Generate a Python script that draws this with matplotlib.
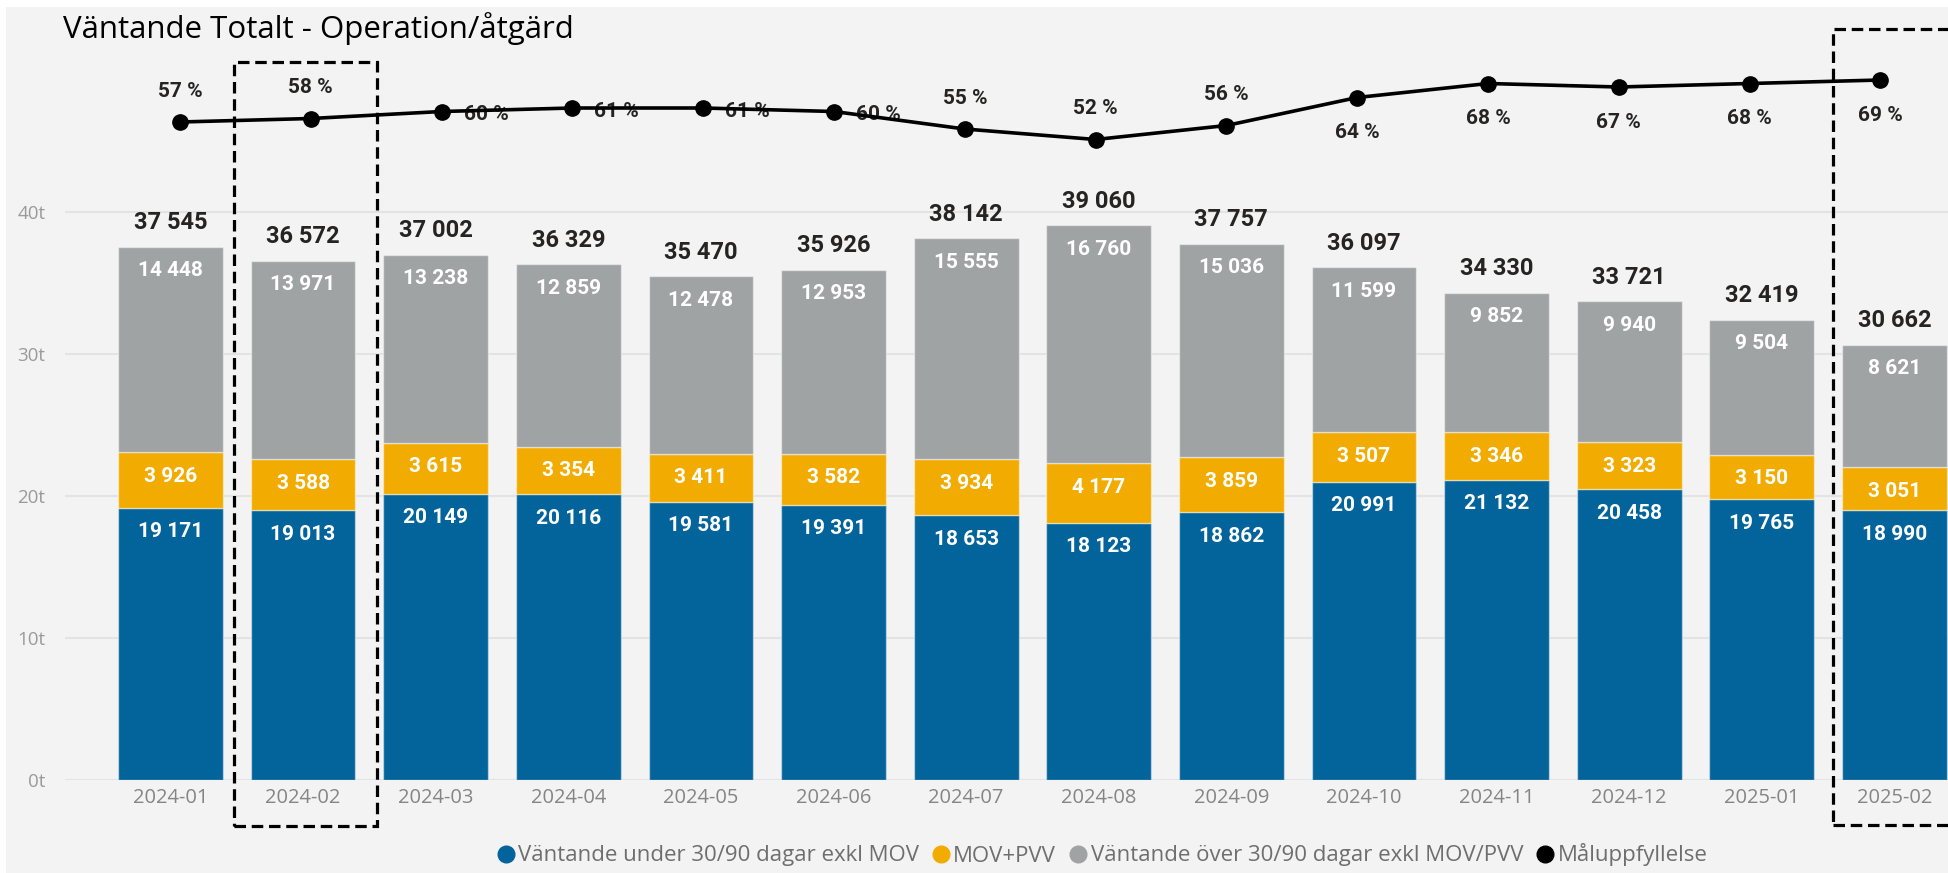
import matplotlib
matplotlib.use("Agg")
import matplotlib.pyplot as plt
from matplotlib.patches import Rectangle
from matplotlib.lines import Line2D
import matplotlib.transforms as mtransforms
import numpy as np

# ---------------- data ----------------
months = ["2024-01", "2024-02", "2024-03", "2024-04", "2024-05", "2024-06", "2024-07",
          "2024-08", "2024-09", "2024-10", "2024-11", "2024-12", "2025-01", "2025-02"]
under_30_90 = [19171, 19013, 20149, 20116, 19581, 19391, 18653, 18123, 18862, 20991, 21132, 20458, 19765, 18990]
mov_pvv = [3926, 3588, 3615, 3354, 3411, 3582, 3934, 4177, 3859, 3507, 3346, 3323, 3150, 3051]
over_30_90 = [14448, 13971, 13238, 12859, 12478, 12953, 15555, 16760, 15036, 11599, 9852, 9940, 9504, 8621]
maluppfyllelse = [57, 58, 60, 61, 61, 60, 55, 52, 56, 64, 68, 67, 68, 69]
pct_label_pos = ["above", "above", "right", "right", "right", "right", "above", "above", "above",
                 "below", "below", "below", "below", "below"]
highlighted = ["2024-02", "2025-02"]
series_names = ["Väntande under 30/90 dagar exkl MOV", "MOV+PVV",
                "Väntande över 30/90 dagar exkl MOV/PVV", "Måluppfyllelse"]
title = "Väntande Totalt - Operation/åtgärd"

# ---------------- style ----------------
C_BLUE = "#03639b"
C_ORANGE = "#f2ab00"
C_GREY = "#a0a3a4"
C_BG = "#f3f3f3"
C_TEXT = "#252423"
UI_FONT = ["Open Sans", "DejaVu Sans"]
NUM_FONT = ["Roboto", "DejaVu Sans"]

W, H = 1949, 873
fig = plt.figure(figsize=(W / 100, H / 100), dpi=100)
fig.patch.set_facecolor("white")
fig.patches.append(Rectangle((6 / W, 0), 1 - 6 / W, 1 - 7 / H, transform=fig.transFigure,
                             facecolor=C_BG, edgecolor="none", zorder=-10))

ax = fig.add_axes([65 / W, (H - 780) / H, 1 - 65 / W, (780 - 40) / H])
ax.set_facecolor("none")
x = np.arange(len(months))
under = np.array(under_30_90)
mov = np.array(mov_pvv)
over = np.array(over_30_90)
totals = under + mov + over

bw = 0.79
edge = dict(edgecolor=(1, 1, 1, 0.45), linewidth=1)
b1 = ax.bar(x, under, bw, color=C_BLUE, **edge, zorder=2)
b2 = ax.bar(x, mov, bw, bottom=under, color=C_ORANGE, **edge, zorder=2)
b3 = ax.bar(x, over, bw, bottom=under + mov, color=C_GREY, **edge, zorder=2)

ax.set_xlim(-0.7956, 13.412)
ax.set_ylim(0, 740 / 142 * 10000)
ax.set_yticks([0, 10000, 20000, 30000, 40000])
ax.yaxis.set_major_formatter(matplotlib.ticker.FuncFormatter(lambda v, p: f"{int(round(v / 1000))}t"))
ax.yaxis.grid(True, color="#e3e3e3", linewidth=1.5, zorder=0)
ax.set_axisbelow(True)
for s in ax.spines.values():
    s.set_visible(False)
ax.set_xticks(x, months)
ax.tick_params(axis="x", length=0, pad=6, labelsize=14.5, labelcolor="#858585")
ax.tick_params(axis="y", length=0, pad=14, labelsize=13.5, labelcolor="#9a9a9a")
for lab in ax.get_xticklabels() + ax.get_yticklabels():
    lab.set_fontfamily(UI_FONT)


def fmt(v):
    return f"{int(v):,}".replace(",", " ")


# segment labels (inside end)
for bars, vals, bottoms in ((b1, under, np.zeros_like(under)), (b2, mov, under), (b3, over, under + mov)):
    for xi, v, b in zip(x, vals, bottoms):
        ax.annotate(fmt(v), (xi, b + v), xytext=(0, -24), textcoords="offset pixels",
                    ha="center", va="center", color="white", fontsize=15, fontweight="bold",
                    family=NUM_FONT, zorder=4)
# totals
for xi, t in zip(x, totals):
    ax.annotate(fmt(t), (xi, t), xytext=(0, 24), textcoords="offset pixels",
                ha="center", va="center", color=C_TEXT, fontsize=17, fontweight="bold",
                family=NUM_FONT, zorder=4)

# line on secondary axis (its own slightly different category spacing, as in the original)
ax2 = fig.add_axes(ax.get_position(), sharex=None)
ax2.set_facecolor("none")
ax2.set_ylim(-131, 80.43)
ax2.set_xlim(-0.879, 13.524)
ax2.axis("off")
ax2.plot(x, maluppfyllelse, color="black", lw=2.6, marker="o", ms=11, zorder=5)
for xi, p, pos in zip(x, maluppfyllelse, pct_label_pos):
    if pos == "above":
        off, ha = (0, 31), "center"
    elif pos == "below":
        off, ha = (0, -35), "center"
    else:
        off, ha = (22, -3), "left"
    ax2.annotate(f"{p} %", (xi, p), xytext=off, textcoords="offset pixels", ha=ha, va="center",
                 color=C_TEXT, fontsize=15, fontweight="bold", family=NUM_FONT, zorder=4)

# dashed highlight boxes
trans = mtransforms.blended_transform_factory(ax.transData, fig.transFigure)
box_geo = {"2024-02": (-0.52, 0.56, 1 - 826 / H, 1 - 62 / H),
           "2025-02": (-0.465, 0.7, 1 - 825 / H, 1 - 29 / H)}
for m in highlighted:
    i = months.index(m)
    l, r, btm, top = box_geo[m]
    rect = Rectangle((i + l, btm), r - l, top - btm, transform=trans, fill=False,
                     edgecolor="black", linewidth=2.3, linestyle=(0, (3.6, 1.8)),
                     clip_on=False, zorder=10)
    fig.add_artist(rect)

# title
fig.text(63 / W, 1 - 38 / H, title, fontsize=22.5, family=UI_FONT, color="black", va="baseline", ha="left")

# legend
handles = [Line2D([], [], marker="o", ls="", ms=12, color=c) for c in (C_BLUE, C_ORANGE, C_GREY, "black")]
leg = fig.legend(handles, series_names, loc="center", bbox_to_anchor=(1101 / W, 18 / H), ncol=4,
                 frameon=False, handletextpad=0.05, columnspacing=0.5, handlelength=1.0,
                 prop={"family": UI_FONT, "size": 16})
for t in leg.get_texts():
    t.set_color("#6e6e6e")

fig.savefig("out.png", dpi=100, facecolor=fig.get_facecolor())
